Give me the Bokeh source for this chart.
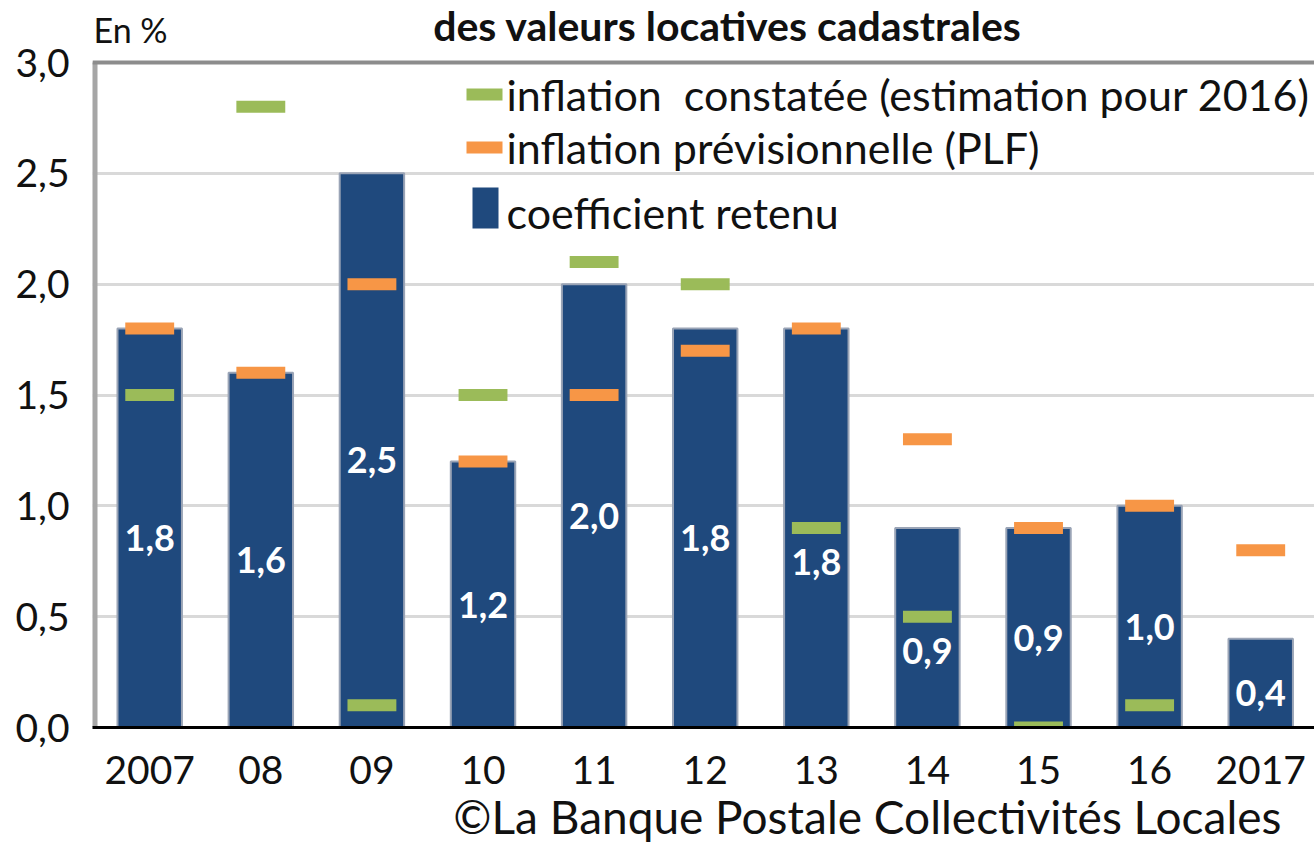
import numpy as np
from bokeh.plotting import figure
from bokeh.models import (ColumnDataSource, Range1d, FixedTicker, CustomJSTickFormatter,
                          Label, BoxAnnotation, Span, Title)
from bokeh.core.properties import value
from bokeh.embed import file_html
from bokeh.resources import INLINE

# ---------------- data ----------------
years = ["2007", "08", "09", "10", "11", "12", "13", "14", "15", "16", "2017"]
coefficient_retenu = [1.8, 1.6, 2.5, 1.2, 2.0, 1.8, 1.8, 0.9, 0.9, 1.0, 0.4]
inflation_previsionnelle = [1.8, 1.6, 2.0, 1.2, 1.5, 1.7, 1.8, 1.3, 0.9, 1.0, 0.8]
inflation_constatee = [1.5, 2.8, 0.1, 1.5, 2.1, 2.0, 0.9, 0.5, 0.0, 0.1, np.nan]
y_ticks = [0.0, 0.5, 1.0, 1.5, 2.0, 2.5, 3.0]

legend_labels = ["inflation\u00a0 constatée (estimation pour 2016)",
                 "inflation prévisionnelle (PLF)",
                 "coefficient retenu"]
title_text = "des valeurs locatives cadastrales"
unit_text = "En %"
source_text = "©La Banque Postale Collectivités Locales"

NAVY = "#1f497d"
ORANGE = "#f79646"
GREEN = "#9bbb59"
FONT = "Lato"

# ---------------- layout (page pixels) ----------------
W, H = 1314, 845
FL, FB = 92, 727                  # frame left / bottom
AXIS_TOP = 62                     # where the value 3.0 sits
FR = W
PPX = 111.1                       # pixels per category
X_START = -0.515
X_END = X_START + (FR - FL) / PPX
PPY = (FB - AXIS_TOP) / 3.0
Y_START = 0.0
Y_END = FB / PPY                  # frame reaches the top of the canvas

def dx(px):
    return X_START + (px - FL) / PPX

def dy(py):
    return (FB - py) / PPY

# value-label anchor: middle of the bar, moved below a green marker it would hit
lab_y = []
for c, g in zip(coefficient_retenu, inflation_constatee):
    ly = c / 2
    if not np.isnan(g) and abs(ly - g) < 0.1:
        ly = g - 0.11
    lab_y.append(ly)

xs = list(range(len(years)))
src = ColumnDataSource(dict(
    x=xs,
    coef=coefficient_retenu,
    plf=inflation_previsionnelle,
    cons=np.array(inflation_constatee, dtype=float),
    lab_y=lab_y,
    lab=[f"{v:.1f}".replace(".", ",") for v in coefficient_retenu],
))

p = figure(width=W, height=H, output_backend="svg", toolbar_location=None,
           x_range=Range1d(X_START, X_END), y_range=Range1d(Y_START, Y_END),
           min_border_left=FL, min_border_top=0, min_border_bottom=H - FB,
           min_border_right=0)
p.background_fill_color = "white"
p.border_fill_color = "white"
p.outline_line_color = None

# grid
p.xgrid.visible = False
p.ygrid.ticker = FixedTicker(ticks=y_ticks)
p.ygrid.grid_line_color = "#d9d9d9"
p.ygrid.grid_line_width = 3

# axes
p.xaxis.ticker = FixedTicker(ticks=xs)
p.xaxis.major_label_overrides = {i: y for i, y in enumerate(years)}
p.xaxis.axis_line_color = "black"
p.xaxis.axis_line_width = 3
p.xaxis.major_tick_line_color = None
p.xaxis.minor_tick_line_color = None
p.xaxis.major_label_text_font = FONT
p.xaxis.major_label_text_font_size = "39px"
p.xaxis.major_label_text_color = "#111111"
p.xaxis.major_label_standoff = 22

p.yaxis.ticker = FixedTicker(ticks=y_ticks)
p.yaxis.formatter = CustomJSTickFormatter(code="return tick.toFixed(1).replace('.', ',');")
p.yaxis.axis_line_color = None
p.yaxis.major_tick_line_color = None
p.yaxis.minor_tick_line_color = None
p.yaxis.major_label_text_font = FONT
p.yaxis.major_label_text_font_size = "39px"
p.yaxis.major_label_text_color = "#111111"
p.yaxis.major_label_standoff = 17

# frame borders: top line at 3.0 and left gray line from 0 to 3.0
p.add_layout(Span(location=3.0, dimension="width", line_color="#8c8c8c", line_width=4))
p.segment(x0=[X_START], y0=[0.0], x1=[X_START], y1=[3.0], line_color="#a6a6a6", line_width=10)

# bars
p.vbar(x="x", top="coef", width=0.58, source=src, fill_color=NAVY,
       line_color="#9aa4b6", line_width=2)

# markers
p.rect(x="x", y="plf", width=0.44, height=12, height_units="screen", source=src,
       fill_color=ORANGE, line_color=None)
p.rect(x="x", y="cons", width=0.44, height=12, height_units="screen", source=src,
       fill_color=GREEN, line_color=None)

# value labels
p.text(x="x", y="lab_y", text="lab", source=src, text_color="white",
       text_font=value(FONT), text_font_style="bold", text_font_size="36px",
       text_align="center", text_baseline="middle", y_offset=10)

# legend (drawn manually)
sw = [(466, 502, 88, 100, GREEN), (466, 502, 141, 153, ORANGE), (472, 498, 187, 228, NAVY)]
for (l, r, t, b, c) in sw:
    p.add_layout(BoxAnnotation(left=dx(l), right=dx(r), top=dy(t), bottom=dy(b),
                               fill_color=c, fill_alpha=1.0, line_color=None))
for txt, cy in zip(legend_labels, [94, 147, 212]):
    p.add_layout(Label(x=dx(506), y=dy(cy), text=txt, text_font=FONT,
                       text_font_size="43px", text_color="#111111",
                       text_align="left", text_baseline="middle"))

# texts above the chart area (inside the extended frame)
p.add_layout(Label(x=dx(93), y=dy(29), text=unit_text, text_font=FONT,
                   text_font_size="34px", text_color="#111111",
                   text_align="left", text_baseline="middle"))
p.add_layout(Label(x=dx(727), y=dy(0), text=title_text, text_font=FONT,
                   text_font_size="41px", text_font_style="bold", text_color="#111111",
                   text_align="center", text_baseline="top"))

# source line below the axis
p.add_layout(Title(text=source_text, align="right", offset=33, standoff=0,
                   text_font=FONT, text_font_size="46px", text_font_style="normal",
                   text_color="#111111"), "below")

open("out.html", "w").write(file_html(p, INLINE))
